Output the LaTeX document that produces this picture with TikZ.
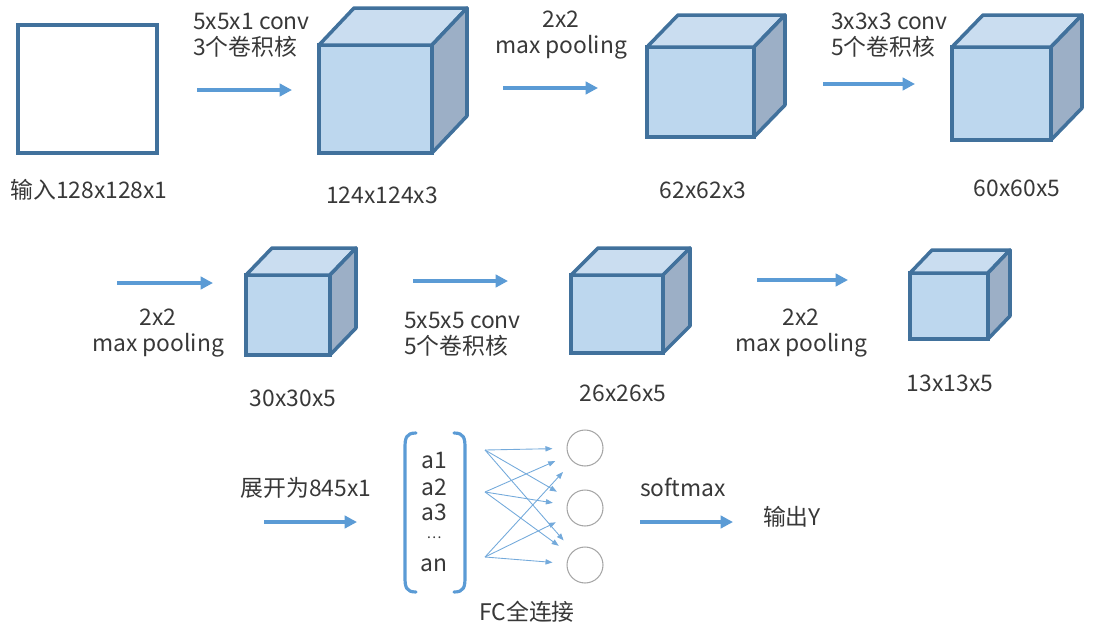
\documentclass[tikz,border=0pt]{standalone}
\usepackage{fontspec}
\setmainfont{Noto Sans CJK SC}
\usepackage{xcolor}
\usepackage{tikz}
\usetikzlibrary{arrows.meta,positioning}
\definecolor{edgeblue}{HTML}{41719C}
\definecolor{faceblue}{HTML}{BDD7EE}
\definecolor{topblue}{HTML}{CADDF0}
\definecolor{sideblue}{HTML}{9CAFC6}
\definecolor{arrblue}{HTML}{5B9BD5}
\definecolor{txtgray}{HTML}{383838}

\begin{document}
\begin{tikzpicture}[x=0.02cm, y=-0.02cm,
  front/.style={rectangle, draw=edgeblue, fill=faceblue, line width=2pt,
    inner sep=0pt, outer sep=0pt},
  topface/.style={draw=edgeblue, fill=topblue, line width=2pt, line join=round},
  sideface/.style={draw=edgeblue, fill=sideblue, line width=2pt, line join=round},
  lbl/.style={font=\fontsize{13}{15}\selectfont, text=txtgray, align=center,
    inner sep=1pt},
  llbl/.style={lbl, align=left, anchor=west},
  arr/.style={-{Triangle[length=7pt,width=7pt]}, draw=arrblue, line width=2pt},
  fan/.style={-{Triangle[length=4pt,width=3pt]}, draw=arrblue!85, line width=0.5pt,
    shorten >=0.28cm},
  neuron/.style={circle, draw=gray!70, line width=0.6pt, minimum size=0.72cm,
    inner sep=0pt},
  brak/.style={draw=arrblue, line width=1.8pt, line cap=round}
]
\useasboundingbox (0,0) rectangle (1095,629);

% Row 1: input and first three volumes
\node[front, fill=white, minimum width=2.78cm, minimum height=2.56cm] (inp) at (87.5,89) {};
\node[lbl] (inp_label) at (89,190) {输入128x128x1};

\node[front, minimum width=2.26cm, minimum height=2.16cm] (cube1) at (375.5,99) {};
\draw[topface] (cube1.north west) -- ++(35,-37) -- ++(113,0) -- (cube1.north east) -- cycle;
\draw[sideface] (cube1.north east) -- ++(35,-37) -- ++(0,108) -- (cube1.south east) -- cycle;
\node[lbl] (cube1_label) at (382,195) {124x124x3};

\node[front, minimum width=2.14cm, minimum height=1.80cm] (cube2) at (700.5,92) {};
\draw[topface] (cube2.north west) -- ++(31,-32) -- ++(107,0) -- (cube2.north east) -- cycle;
\draw[sideface] (cube2.north east) -- ++(31,-32) -- ++(0,90) -- (cube2.south east) -- cycle;
\node[lbl] (cube2_label) at (703,190) {62x62x3};

\node[front, minimum width=1.98cm, minimum height=1.86cm] (cube3) at (1001.5,93.5) {};
\draw[topface] (cube3.north west) -- ++(31,-32) -- ++(99,0) -- (cube3.north east) -- cycle;
\draw[sideface] (cube3.north east) -- ++(31,-32) -- ++(0,93) -- (cube3.south east) -- cycle;
\node[lbl] (cube3_label) at (1017,188) {60x60x5};

\coordinate (a1s) at (197,90);  \coordinate (a1e) at (292,90);
\coordinate (a2s) at (503,88);  \coordinate (a2e) at (598,88);
\coordinate (a3s) at (823,84);  \coordinate (a3e) at (915,84);
\draw[arr] (a1s) -- (a1e);
\draw[arr] (a2s) -- (a2e);
\draw[arr] (a3s) -- (a3e);

\node[llbl] (conv1) at (191,35) {5x5x1 conv\\3个卷积核};
\node[lbl] (pool1) at (561,35) {2x2\\max pooling};
\node[llbl] (conv2) at (829,35) {3x3x3 conv\\5个卷积核};

% Row 2
\node[front, minimum width=1.68cm, minimum height=1.60cm] (cube4) at (288,315) {};
\draw[topface] (cube4.north west) -- ++(26,-27) -- ++(84,0) -- (cube4.north east) -- cycle;
\draw[sideface] (cube4.north east) -- ++(26,-27) -- ++(0,80) -- (cube4.south east) -- cycle;
\node[lbl] (cube4_label) at (293,398) {30x30x5};

\node[front, minimum width=1.84cm, minimum height=1.56cm] (cube5) at (617,314) {};
\draw[topface] (cube5.north west) -- ++(27,-27) -- ++(92,0) -- (cube5.north east) -- cycle;
\draw[sideface] (cube5.north east) -- ++(27,-27) -- ++(0,78) -- (cube5.south east) -- cycle;
\node[lbl] (cube5_label) at (623,393) {26x26x5};

\node[front, minimum width=1.56cm, minimum height=1.32cm] (cube6) at (949,306) {};
\draw[topface] (cube6.north west) -- ++(22,-23) -- ++(78,0) -- (cube6.north east) -- cycle;
\draw[sideface] (cube6.north east) -- ++(22,-23) -- ++(0,66) -- (cube6.south east) -- cycle;
\node[lbl] (cube6_label) at (950,383) {13x13x5};

\coordinate (a4s) at (117,283); \coordinate (a4e) at (213,283);
\coordinate (a5s) at (413,281); \coordinate (a5e) at (508,281);
\coordinate (a6s) at (757,280); \coordinate (a6e) at (848,280);
\draw[arr] (a4s) -- (a4e);
\draw[arr] (a5s) -- (a5e);
\draw[arr] (a6s) -- (a6e);

\node[lbl] (pool2) at (158,333) {2x2\\max pooling};
\node[llbl] (conv3) at (402,334) {5x5x5 conv\\5个卷积核};
\node[lbl] (pool3) at (801,333) {2x2\\max pooling};

% Row 3: flatten, FC, softmax
\node[lbl] (flat) at (306,488) {展开为845x1};
\coordinate (a7s) at (264,522); \coordinate (a7e) at (357,522);
\draw[arr] (a7s) -- (a7e);

\draw[brak] (416,433) .. controls (406,433) and (405,438) .. (405,448) -- (405,577)
  .. controls (405,587) and (406,592) .. (416,592);
\draw[brak] (454,433) .. controls (464,433) and (465,438) .. (465,448) -- (465,577)
  .. controls (465,587) and (464,592) .. (454,592);

\node[lbl] (v1) at (434,460) {a1};
\node[lbl] (v2) at (434,487) {a2};
\node[lbl] (v3) at (434,512) {a3};
\node[lbl, font=\fontsize{8}{9}\selectfont] (vdots) at (434,538) {\ldots};
\node[lbl] (vn) at (434,565) {an};

\coordinate (src1) at (485,450);
\coordinate (src2) at (485,492);
\coordinate (src3) at (485,557);

\node[neuron] (o1) at (585,448) {};
\node[neuron] (o2) at (585,508) {};
\node[neuron] (o3) at (585,565) {};

\draw[fan] (src1) -- (o1);
\draw[fan] (src1) -- (o2);
\draw[fan] (src1) -- (o3);
\draw[fan] (src2) -- (o1);
\draw[fan] (src2) -- (o2);
\draw[fan] (src2) -- (o3);
\draw[fan] (src3) -- (o1);
\draw[fan] (src3) -- (o2);
\draw[fan] (src3) -- (o3);

\node[lbl] (fc) at (527,612) {FC全连接};

\node[lbl] (soft) at (683,487) {softmax};
\coordinate (a8s) at (640,522); \coordinate (a8e) at (733,522);
\draw[arr] (a8s) -- (a8e);
\node[llbl] (out) at (761,517) {输出Y};

\end{tikzpicture}
\end{document}
